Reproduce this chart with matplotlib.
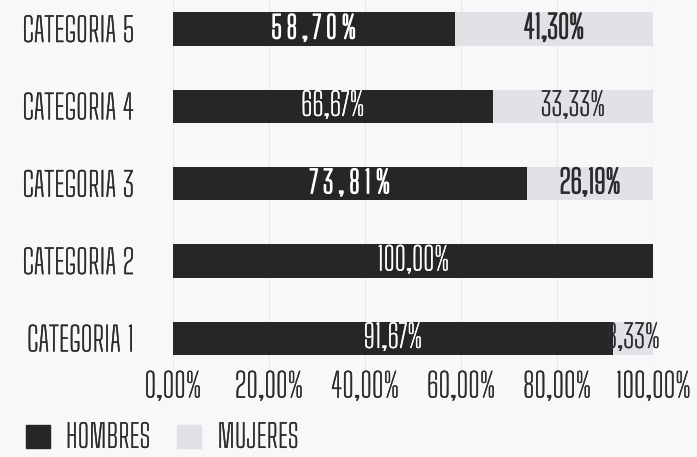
import numpy as np
import matplotlib.pyplot as plt
import matplotlib.patheffects as pe
from matplotlib.patches import Patch

# share of men / women per category (percent)
categorias = ["CATEGORIA 1", "CATEGORIA 2", "CATEGORIA 3", "CATEGORIA 4", "CATEGORIA 5"]
hombres = [91.67, 100.00, 73.81, 66.67, 58.70]
mujeres = [8.33, 0.00, 26.19, 33.33, 41.30]
# labels drawn in heavier type, some of them letter-spaced
bold_h = [False, False, True, False, True]
bold_m = [False, False, True, False, True]
spaced_h = [False, False, True, False, True]
xticks = [0, 20, 40, 60, 80, 100]

BG = "#f7f8fa"
DARK = "#272526"
LIGHT = "#e1e2e5"
TXT = "#2b2a2c"

plt.rcParams['font.family'] = ['Big Shoulders Text', 'DejaVu Sans']

# thin stroke to thicken the light default weight a little
REG = [pe.withStroke(linewidth=0.3)]

fig = plt.figure(figsize=(6.97, 4.57), dpi=100, facecolor=BG)
ax = fig.add_axes([0.248, 0.19, 0.689, 0.81], facecolor=BG)

y = np.arange(len(categorias))
h = 0.43
ax.barh(y, hombres, height=h, color=DARK, zorder=2)
ax.barh(y, mujeres, left=hombres, height=h, color=LIGHT, zorder=2)

def fmt(v):
    return f"{v:.2f}".replace(".", ",") + "%"

def label(x, yy, v, color, bold, spaced=False):
    s = fmt(v)
    if spaced:
        s = "\u200a".join(s)
    t = ax.text(x, yy, s, color=color, ha="center", va="center",
                fontsize=22 if spaced else 23, zorder=3)
    t.set_path_effects([pe.withStroke(linewidth=1.0 if bold else 0.3, foreground=color)])

for i in range(len(categorias)):
    if hombres[i] > 0:
        label(hombres[i] / 2, y[i], hombres[i], "white", bold_h[i], spaced_h[i])
    if mujeres[i] > 0:
        label(hombres[i] + mujeres[i] / 2, y[i], mujeres[i], TXT, bold_m[i])

ax.set_xlim(0, 100)
ax.set_ylim(-0.41, 4.375)
ax.set_xticks(xticks)
ax.set_xticklabels([fmt(v) for v in xticks])
ax.set_yticks(y)
ax.set_yticklabels(categorias)
ax.tick_params(axis="x", length=0, pad=1, labelsize=24, labelcolor=TXT)
ax.tick_params(axis="y", length=0, pad=28, labelsize=24, labelcolor=TXT)
for t in ax.get_xticklabels() + ax.get_yticklabels():
    t.set_path_effects(REG)
ax.grid(axis="x", color="#e8e9eb", lw=1, zorder=0)
for s in ax.spines.values():
    s.set_visible(False)

handles = [Patch(color=DARK, label="HOMBRES"), Patch(color=LIGHT, label="MUJERES")]
leg = fig.legend(handles=handles, loc="lower left", bbox_to_anchor=(0.014, -0.028), ncol=2,
                 frameon=False, fontsize=23, handlelength=0.75, handleheight=0.75,
                 handletextpad=0.5, columnspacing=0.85, borderpad=0, labelcolor=TXT)
for t in leg.get_texts():
    t.set_path_effects(REG)

fig.savefig("out.png", dpi=100, facecolor=BG)
